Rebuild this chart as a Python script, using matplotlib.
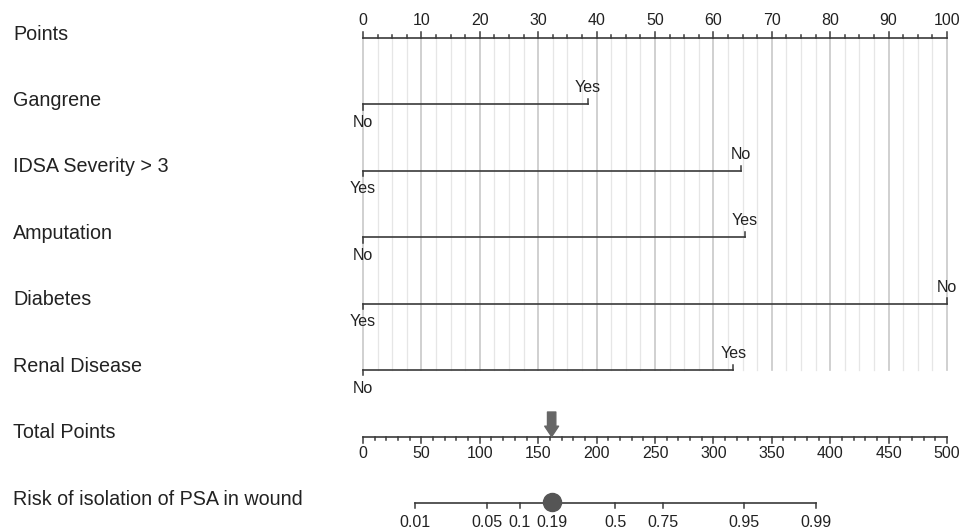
import numpy as np
import matplotlib
matplotlib.use('Agg')
import matplotlib.pyplot as plt

plt.rcParams['font.family'] = ['Liberation Sans', 'DejaVu Sans']

# rows of the nomogram
row_labels = ['Points', 'Gangrene', 'IDSA Severity > 3', 'Amputation', 'Diabetes',
              'Renal Disease', 'Total Points', 'Risk of isolation of PSA in wound']

# predictors: points of the level at the far end of each line
predictors = ['Gangrene', 'IDSA Severity > 3', 'Amputation', 'Diabetes', 'Renal Disease']
pred_points = [38.5, 64.7, 65.4, 100, 63.4]
low_labels = ['No', 'Yes', 'No', 'Yes', 'No']
high_labels = ['Yes', 'No', 'Yes', 'No', 'Yes']

# total points scale
total_max = 500
total_ticks = np.arange(0, 501, 50)
# risk scale: total points at risk 0.5 and points per logit unit
risk_ticks = [0.01, 0.05, 0.1, 0.19, 0.5, 0.75, 0.95, 0.99]
risk_tick_labels = ['0.01', '0.05', '0.1', '0.19', '0.5', '0.75', '0.95', '0.99']
tp_at_half = 216.0
tp_per_logit = 37.33

# example patient
patient_total = 161.5
patient_risk = 0.19

line_col = '#3a3a3a'
txt_col = '#222222'
fs = 11.5

fig = plt.figure(figsize=(9.74, 5.3), dpi=100)
ax = fig.add_axes([0, 0, 1, 1])
ax.set_xlim(-62.16, 104.62)
ax.set_ylim(7.406, -0.572)
ax.axis('off')


def tp_to_x(tp):
    return np.asarray(tp) * 100.0 / total_max


def risk_to_tp(p):
    p = np.asarray(p)
    return tp_at_half + tp_per_logit * np.log(p / (1 - p))


# row labels
for i, lab in enumerate(row_labels):
    ax.text(-59.9, i - 0.06, lab, fontsize=14.2, color=txt_col, ha='left', va='center')

# grid
last_row = len(predictors)
for v in np.arange(0, 100.01, 2.5):
    major = abs(v % 10) < 1e-9
    ax.plot([v, v], [0, last_row], color='#c8c8c8' if major else '#e6e6e6',
            lw=1.2 if major else 0.9, zorder=0)

# points axis
ax.plot([0, 100], [0, 0], color=line_col, lw=1.2)
for v in np.arange(0, 100.01, 2.5):
    major = abs(v % 10) < 1e-9
    ax.plot([v, v], [0, -0.09 if major else -0.045], color=line_col, lw=1.1)
for v in np.arange(0, 101, 10):
    ax.text(v, -0.26, str(int(v)), fontsize=fs, color=txt_col, ha='center', va='center')

# predictor lines
for i, (pts, lo, hi) in enumerate(zip(pred_points, low_labels, high_labels)):
    y = i + 1
    ax.plot([0, pts], [y, y], color=line_col, lw=1.2)
    ax.plot([0, 0], [y, y + 0.08], color=line_col, lw=1.1)
    ax.plot([pts, pts], [y, y - 0.08], color=line_col, lw=1.1)
    ax.text(0, y + 0.27, lo, fontsize=fs, color=txt_col, ha='center', va='center')
    ax.text(pts, y - 0.25, hi, fontsize=fs, color=txt_col, ha='center', va='center')

# total points axis
yt = 6
ax.plot([0, 100], [yt, yt], color=line_col, lw=1.2)
for v in np.arange(0, total_max + 1, 10):
    major = v % 50 == 0
    ax.plot([tp_to_x(v)] * 2, [yt, yt + (0.09 if major else 0.045)], color=line_col, lw=1.1)
for v in total_ticks:
    ax.text(tp_to_x(v), yt + 0.26, str(int(v)), fontsize=fs, color=txt_col,
            ha='center', va='center')

ax.annotate('', xy=(tp_to_x(patient_total), yt), xytext=(tp_to_x(patient_total), yt - 0.37),
            arrowprops=dict(arrowstyle='simple,head_width=1.0,head_length=0.75,tail_width=0.6',
                            color='#666666', shrinkA=0, shrinkB=0), zorder=5)

# risk axis
yr = 7
rx = tp_to_x(risk_to_tp(risk_ticks))
ax.plot([rx[0], rx[-1]], [yr, yr], color=line_col, lw=1.2)
for x, lab in zip(rx, risk_tick_labels):
    ax.plot([x, x], [yr, yr + 0.08], color=line_col, lw=1.1)
    ax.text(x, yr + 0.29, lab, fontsize=fs, color=txt_col, ha='center', va='center')
ax.plot(tp_to_x(risk_to_tp(patient_risk)), yr - 0.01, 'o', ms=13, color='#555555', zorder=5)

fig.savefig('out.png', dpi=100)
